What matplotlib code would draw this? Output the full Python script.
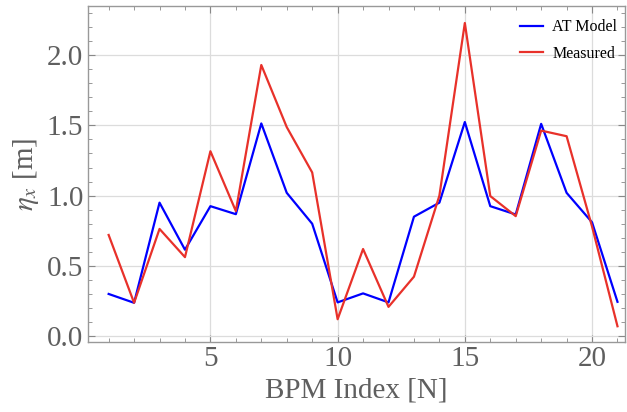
import matplotlib
matplotlib.use("Agg")
import matplotlib.pyplot as plt
from matplotlib.ticker import MultipleLocator

bpm = list(range(1, 22))
at_model = [0.30, 0.237, 0.95, 0.615, 0.925, 0.868, 1.514, 1.02, 0.80, 0.24, 0.304,
            0.24, 0.85, 0.95, 1.524, 0.925, 0.866, 1.511, 1.02, 0.81, 0.244]
measured = [0.72, 0.237, 0.763, 0.562, 1.316, 0.89, 1.93, 1.488, 1.165, 0.12, 0.62,
            0.208, 0.423, 1.0, 2.229, 0.997, 0.854, 1.463, 1.423, 0.78, 0.07]
xticks = [5, 10, 15, 20]
yticks = [0.0, 0.5, 1.0, 1.5, 2.0]

plt.rcParams['font.family'] = ['Liberation Serif', 'DejaVu Serif']
plt.rcParams['mathtext.fontset'] = 'stix'

gray = '#5f5f5f'
fig = plt.figure(figsize=(6.27, 4.12), dpi=100)
ax = fig.add_axes([0.1396, 0.1706, 0.8574, 0.8148])

ax.plot(bpm, at_model, color='#0000ff', lw=1.6, label='AT Model')
ax.plot(bpm, measured, color='#e8312a', lw=1.6, label='Measured')

ax.set_xlim(0.17, 21.3)
ax.set_ylim(-0.04, 2.35)
ax.set_xticks(xticks)
ax.set_yticks(yticks)
ax.set_yticklabels([f'{v:.1f}' for v in yticks])
ax.xaxis.set_minor_locator(MultipleLocator(1))
ax.yaxis.set_minor_locator(MultipleLocator(0.1))
ax.grid(True, which='major', color='#dcdcdc', lw=0.9)
ax.set_axisbelow(True)
ax.tick_params(which='both', direction='in', top=True, right=True, colors='#888888',
               labelcolor=gray, labelsize=21)
ax.tick_params(which='major', length=5, width=0.8, pad=3)
ax.tick_params(which='minor', length=3, width=0.6)
for s in ax.spines.values():
    s.set_color('#999999')
    s.set_linewidth(1.0)

ax.set_xlabel('BPM Index [N]', fontsize=21, color=gray, labelpad=4)
ax.set_ylabel(r'$\eta_x$ [m]', fontsize=21, color=gray, labelpad=4)

leg = ax.legend(loc='upper right', frameon=False, fontsize=11.5, handlelength=1.4,
                labelspacing=0.65, handletextpad=0.6, bbox_to_anchor=(1.012, 1.003))

fig.savefig('out.png', dpi=100)
